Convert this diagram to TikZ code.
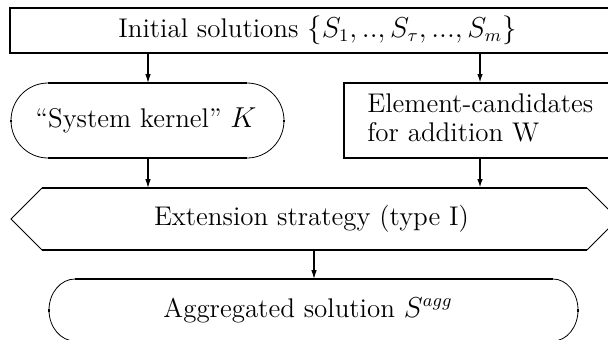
\documentclass[tikz,border=0pt]{standalone}
\usepackage{amsmath}
\usepackage{amssymb}
\usetikzlibrary{arrows.meta}

\tikzset{
  thk/.style={line width=1pt},
  thn/.style={line width=0.4pt},
  arr/.style={-{Latex[length=4.5pt,width=2.8pt]}, line width=0.55pt},
  arrb/.style={-{Latex[length=4.5pt,width=2.8pt]}, line width=0.9pt},
  lbl/.style={inner sep=0pt, font=\fontsize{13.5}{14.5}\selectfont},
}

\begin{document}
\begin{tikzpicture}[x=0.5pt,y=0.5pt]
    \useasboundingbox (0,0) rectangle (608,339);
    % points where the connectors start and end
    \coordinate (I1) at (148,286.5);
    \coordinate (I2) at (480,286.5);
    \coordinate (K1) at (148,256);
    \coordinate (K2) at (148,181);
    \coordinate (W1) at (480,256);
    \coordinate (W2) at (480,181);
    \coordinate (E1) at (148,151);
    \coordinate (E2) at (480,151);
    \coordinate (E3) at (314,89);
    \coordinate (G1) at (314,60);

    % initial solutions
    \draw[thk] (10,286.5) rectangle (625,331.5);
    \node[lbl] (init) at (317.5,309) {Initial solutions $\{S_1,..,S_\tau,...,S_m\}$};

    % system kernel
    \draw[thk] (48,256) -- (247,256);
    \draw[thk] (48,181) -- (247,181);
    \draw[thn] (48,256) arc[start angle=90,end angle=270,x radius=37,y radius=37.5];
    \draw[thn] (247,256) arc[start angle=90,end angle=-90,x radius=37,y radius=37.5];
    \draw[thk] (11,217.5) -- (11,219.5);
    \draw[thk] (284,217.5) -- (284,219.5);
    \node[lbl] (kern) at (146,219) {``System kernel'' $K$};

    % candidates W
    \draw[thk] (344,181) rectangle (630,256);
    \node[lbl, anchor=west, align=left] (cand) at (367,221) {Element-candidates\\for addition W};

    % extension strategy
    \draw[thk] (42,151) -- (587,151);
    \draw[thk] (42,89) -- (587,89);
    \draw[thn] (42,151) -- (11,120) -- (42,89);
    \draw[thn] (587,151) -- (618,120) -- (587,89);
    \node[lbl] (ext) at (311.5,120) {Extension strategy (type I)};

    % aggregated solution
    \draw[thk] (75,60) -- (553,60);
    \draw[thk] (75,-2) -- (553,-2);
    \draw[thn] (75,60) arc[start angle=90,end angle=270,x radius=26,y radius=31];
    \draw[thn] (553,60) arc[start angle=90,end angle=-90,x radius=25,y radius=31];
    \draw[thk] (49,27.5) -- (49,30.5);
    \draw[thk] (578,27.5) -- (578,30.5);
    \node[lbl] (agg) at (308,29) {Aggregated solution $S^{agg}$};

    % connectors
    \draw[arr] (I1) -- (K1);
    \draw[arrb] (I2) -- (W1);
    \draw[arr] (K2) -- (E1);
    \draw[arrb] (W2) -- (E2);
    \draw[arr] (E3) -- (G1);
\end{tikzpicture}
\end{document}
